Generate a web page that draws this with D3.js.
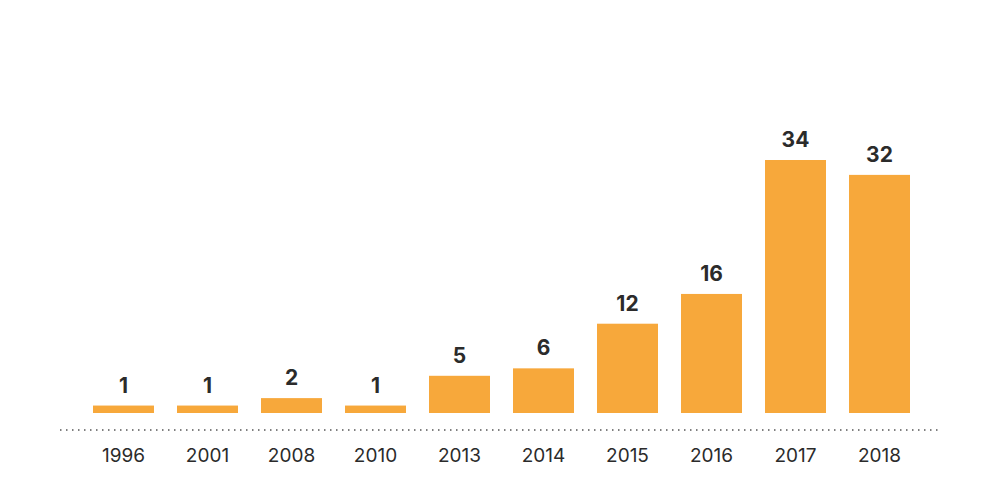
<!DOCTYPE html>
<html><head><meta charset="utf-8">
<script src="https://cdn.jsdelivr.net/npm/d3@7"></script>
<style>body{margin:0;background:#fff}</style>
</head><body><div id="chart"></div>
<script>
const years = ["1996","2001","2008","2010","2013","2014","2015","2016","2017","2018"];
const counts = [1,1,2,1,5,6,12,16,34,32];

const width = 1000, height = 500, baseline = 413;

const svg = d3.select("#chart").append("svg")
    .attr("width", width).attr("height", height);

const x = d3.scaleBand().domain(years).range([84.6, 918.4])
    .paddingInner(0.274).paddingOuter(0.1);
const y = d3.scaleLinear().domain([0, 34]).range([baseline, 160]);

svg.append("g").selectAll("rect")
  .data(years)
  .join("rect")
    .attr("x", d => x(d))
    .attr("y", (d, i) => y(counts[i]))
    .attr("width", x.bandwidth())
    .attr("height", (d, i) => baseline - y(counts[i]))
    .attr("fill", "#f7a83b");

// values above bars
svg.append("g").selectAll("text")
  .data(years)
  .join("text")
    .attr("x", d => x(d) + x.bandwidth() / 2)
    .attr("y", (d, i) => y(counts[i]) - 13)
    .attr("text-anchor", "middle")
    .attr("font-family", "Inter, 'Open Sans', sans-serif")
    .attr("font-weight", 700)
    .attr("font-size", 21)
    .attr("fill", "#2b2b2b")
    .text((d, i) => counts[i]);

// dotted axis line
svg.append("line")
    .attr("x1", 60).attr("x2", 940).attr("y1", 430).attr("y2", 430)
    .attr("stroke", "#555").attr("stroke-width", 1.5)
    .attr("stroke-dasharray", "1.5,4.5");

// year labels
svg.append("g").selectAll("text")
  .data(years)
  .join("text")
    .attr("x", d => x(d) + x.bandwidth() / 2)
    .attr("y", 462)
    .attr("text-anchor", "middle")
    .attr("font-family", "Inter, 'Open Sans', sans-serif")
    .attr("font-size", 19)
    .attr("fill", "#2b2b2b")
    .text(d => d);
</script></body></html>
